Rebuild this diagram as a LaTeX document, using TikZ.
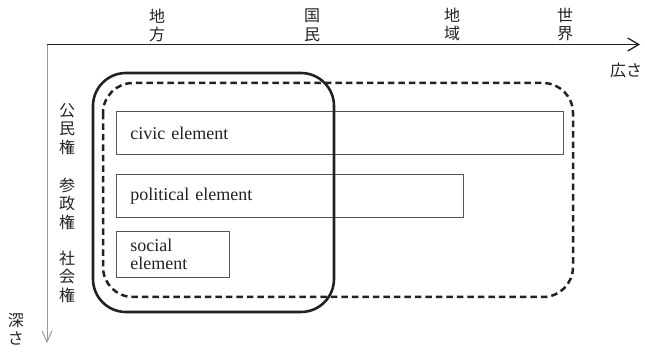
\documentclass[tikz,border=0pt]{standalone}
\usepackage{fontspec}
\setmainfont{Liberation Serif}
\newfontfamily\cjk{Noto Sans CJK JP}
\usetikzlibrary{arrows.meta}
\definecolor{ink}{HTML}{222222}
\definecolor{axisgray}{HTML}{9A9A9A}
\definecolor{boxline}{HTML}{555555}
\tikzset{
  cjklabel/.style={font=\cjk\fontsize{16}{18.5}\selectfont, text=ink, align=center, inner sep=0pt},
  elem/.style={draw=boxline, line width=0.9pt, anchor=north west, align=left,
    inner xsep=14pt, inner ysep=0pt, text=ink, font=\fontsize{18}{17.5}\selectfont},
  scopebox/.style={line width=2.6pt, draw=ink, rounded corners=33pt},
  reachbox/.style={line width=2.5pt, draw=ink, rounded corners=30pt, dash pattern=on 6.5pt off 4pt}
}
\begin{document}
\begin{tikzpicture}[x=1pt, y=-1pt]
\useasboundingbox (0,0) rectangle (645,352);

% axes
\coordinate (origin) at (47,44.5);
\coordinate (xend) at (640,44.5);
\coordinate (yend) at (47,343);
\draw[axisgray, line width=1pt, -{Straight Barb[length=11pt, width=10pt]}] (origin) -- (yend);
\draw[ink, line width=1.3pt, -{Straight Barb[length=11pt, width=13pt]}] (origin) -- (xend);

% breadth scale
\node[cjklabel] (chiho)  at (157,25.5) {地\\方};
\node[cjklabel] (kokumin) at (312,25.5) {国\\民};
\node[cjklabel] (chiiki) at (452,24.5) {地\\域};
\node[cjklabel] (sekai)  at (565,24.5) {世\\界};
\node[cjklabel] (hirosa) at (626,70) {広さ};

% depth scale
\node[cjklabel] (fukasa) at (16,329) {深\\さ};
\node[cjklabel] (koumin) at (67,129) {公\\民\\権};
\node[cjklabel] (sansei) at (67,203.5) {参\\政\\権};
\node[cjklabel] (shakai) at (67,276.5) {社\\会\\権};

% rights elements
\node[elem, minimum height=43pt, text width=419pt] (civic) at (116,111) {civic element};
\node[elem, minimum height=43pt, text width=319pt] (political) at (116,174) {political element};
\node[elem, minimum height=46pt, text width=85pt] (social) at (116,231) {social\\element};

% extents
\draw[scopebox] (93,73) rectangle (334,312);
\draw[reachbox] (103,83) rectangle (573,297);
\end{tikzpicture}
\end{document}
